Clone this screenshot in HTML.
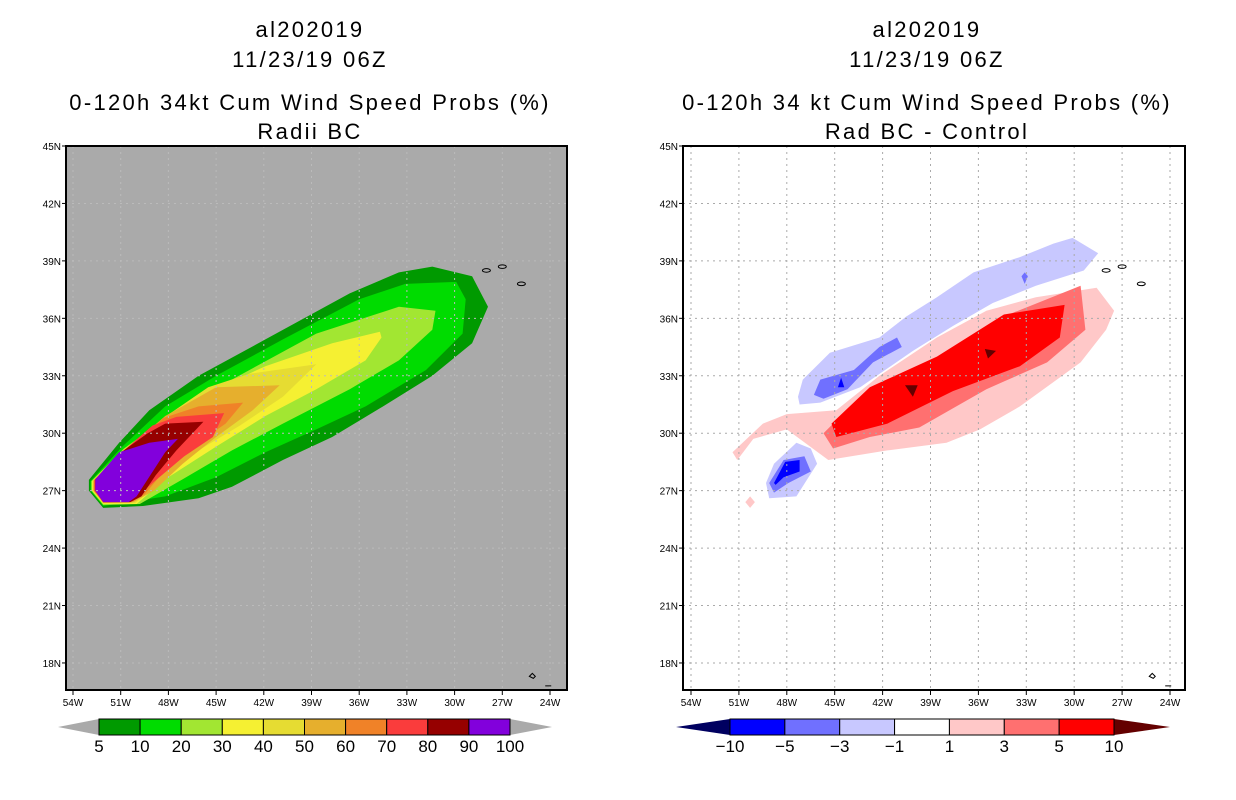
<!DOCTYPE html>
<html><head><meta charset="utf-8"><style>
html,body{margin:0;padding:0;background:#fff}
svg{display:block}
text{font-family:"Liberation Sans",sans-serif;fill:#000}
.t{font-size:22px;text-anchor:middle;letter-spacing:2.3px}
.tk{font-size:10px}
.cb{font-size:17px;text-anchor:middle}
</style></head><body>
<svg id="page" width="1236" height="800" viewBox="0 0 1236 800" xmlns="http://www.w3.org/2000/svg">
<rect width="1236" height="800" fill="#fff"/>
<g>
<text class="t" x="310" y="37">al202019</text>
<text class="t" x="310" y="67">11/23/19 06Z</text>
<text class="t" x="310" y="110">0-120h 34kt Cum Wind Speed Probs (%)</text>
<text class="t" x="310" y="139">Radii BC</text>
</g>
<g>
<text class="t" x="927" y="37">al202019</text>
<text class="t" x="927" y="67">11/23/19 06Z</text>
<text class="t" x="927" y="110">0-120h 34 kt Cum Wind Speed Probs (%)</text>
<text class="t" x="927" y="139">Rad BC - Control</text>
</g>
<g id="left"></g>
<g id="right"></g>
<g id="lcb"></g>
<g id="rcb"></g>
</svg>
<script>
const lonTicks=[54,51,48,45,42,39,36,33,30,27,24];
const latTicks=[45,42,39,36,33,30,27,24,21,18];
const probLevels=[5,10,20,30,40,50,60,70,80,90,100];
const probColors=["#009a00","#00dc00","#a2e632","#f5f032","#e6dc32","#e6af2d","#f08228","#fa3c3c","#960000","#8200dc"];
const diffLevels=[-10,-5,-3,-1,1,3,5,10];
const diffColors=["#0000ff","#7070ff","#c8c8ff","#ffffff","#ffc8c8","#ff7070","#ff0000"];
const prob5=[[53,27.56],[51.1,29.5],[49.2,31.2],[46.1,33],[41.9,34.9],[36.6,37.3],[33.5,38.4],[31.4,38.7],[28.9,38.2],[27.9,36.6],[28.9,34.7],[31.4,33],[34.5,31.4],[37.7,29.8],[40.8,28.6],[44,27.2],[46.1,26.6],[49.6,26.2],[52.1,26.1],[53,27]];
const prob10=[[52.9,27.5],[50.9,29.3],[48.2,31.4],[45,33],[40.8,34.9],[36,37],[33.1,37.8],[29.9,37.9],[29.3,37],[29.5,35.2],[31.8,33.3],[35.6,31.4],[38.7,30.2],[41.9,29],[45,27.7],[48.2,26.7],[52.1,26.2],[52.9,27]];
const prob20=[[52.85,27.5],[50.8,29.2],[47.1,31.4],[42.9,33.3],[38.7,35.2],[33.5,36.6],[31.2,36.4],[31.4,35.4],[33.5,33.8],[36.6,32.3],[40.8,30.5],[44,29.1],[47.1,27.6],[49.8,26.3],[52.1,26.25],[52.85,27]];
const prob30=[[52.8,27.5],[50.8,29.15],[48.5,30.6],[46.1,31.9],[41.9,33.5],[37.7,34.7],[34.7,35.3],[34.6,35],[35.6,33.8],[38.7,32.3],[41.9,30.9],[45,29.3],[48.2,27.6],[50,26.3],[52.1,26.3],[52.8,27]];
const prob40=[[52.75,27.5],[50.75,29.15],[48.3,30.8],[45.5,32.4],[42.9,33.1],[38.7,33.6],[40.8,31.9],[43.5,30.4],[46.1,29.1],[48.5,27.4],[50.1,26.35],[52.1,26.35],[52.75,27]];
const prob50=[[52.7,27.5],[50.7,29.1],[48.2,30.9],[45,32.4],[41,32.5],[42.7,31.2],[45,29.8],[47.1,28.4],[48.9,27],[50.2,26.4],[52.1,26.35],[52.7,27]];
const prob60=[[52.7,27.55],[50.7,29.1],[48.3,30.8],[46.1,31.4],[43.3,31.6],[44.4,30.5],[46.5,29.3],[48.2,28.1],[49.5,26.8],[50.3,26.4],[52.1,26.4],[52.7,27]];
const prob70=[[52.65,27.55],[50.8,29.1],[49,30.4],[47.5,30.85],[44.5,31.05],[45.2,29.8],[47,28.8],[49,27.4],[50.4,26.4],[52.1,26.4],[52.65,27]];
const prob80=[[52.6,27.6],[50.9,29.05],[49.3,30],[48.2,30.5],[45.8,30.6],[47.5,29.1],[48.8,27.8],[49.7,26.7],[50.4,26.4],[52.1,26.4],[52.6,27]];
const prob90=[[52.6,27.6],[51.1,29],[49.2,29.5],[47.4,29.7],[48.2,29],[50,26.7],[50.5,26.4],[52.1,26.4],[52.6,27]];
const neg1North=[[47.3,31.9],[47,32.8],[45.3,34.2],[42.2,35],[40.5,36.1],[38.6,37.1],[36.3,38.4],[33.4,39.2],[31.3,39.9],[30.1,40.2],[28.5,39.4],[29.4,38.5],[32.4,37.7],[35.1,36.8],[37.6,35.6],[40.1,34.3],[43.4,32.4],[45.9,31.6],[47.2,31.5]];
const neg3North=[[46.3,32],[45.9,32.8],[43.8,33.3],[42.2,34.5],[41.1,35],[40.8,34.5],[42.6,33.7],[44.2,32.3],[45.7,31.8]];
const neg3NorthB=[[33.3,38.2],[33.1,37.8],[32.9,38.2],[33.1,38.4]];
const neg5North=[[44.8,32.4],[44.6,32.9],[44.4,32.4]];
const neg1South=[[49.3,27.4],[48.8,28.4],[47.4,29.5],[46.5,29.2],[46.1,28.4],[47.4,26.7],[49.1,26.6]];
const neg3South=[[49.1,27.4],[48.2,28.6],[46.9,28.8],[46.5,28],[47.9,27.4],[48.8,26.9]];
const neg5South=[[48.8,27.4],[48.1,28.5],[47.2,28.6],[47.2,28],[48.2,27.7],[48.7,27.3]];
const pos1=[[51.4,29],[49.5,30.5],[48,31],[44.9,31.2],[42.2,33],[38.6,35],[35.5,36.4],[32.4,37.1],[28.6,37.6],[27.5,36.4],[28,35.4],[29.6,33.7],[33.4,31.4],[35.9,30.2],[38,29.5],[41.7,29.1],[45.4,28.6],[48,30.2],[50.1,29.7],[51.1,28.6]];
const pos1b=[[50.3,26.7],[50,26.4],[50.3,26.1],[50.6,26.4]];
const pos3=[[45.7,30],[43.4,31.9],[38.6,33.6],[34.4,36.1],[29.6,37.7],[29.3,35.4],[31.7,33.7],[35.5,32.3],[39.7,30.3],[42.8,29.8],[45.1,29.2]];
const pos5=[[45.2,30.5],[42.8,32.4],[38.6,34],[34.4,36.2],[30.6,36.7],[30.9,35],[33.4,33.5],[37.6,32.2],[41.7,30.5],[44.9,29.8]];
const pos10=[[40.6,32.5],[39.8,32.5],[40.1,31.9]];
const pos10b=[[35.6,34.4],[34.9,34.3],[35.4,33.9]];

const NS="http://www.w3.org/2000/svg";
const Y0=146, DY=57.44/3;
function mk(tag,attrs,parent){const e=document.createElementNS(NS,tag);for(const k in attrs)e.setAttribute(k,attrs[k]);parent.appendChild(e);return e;}
function panel(g,x0,dx,bx0,bx1,bg,grid){
  const X=w=>x0+(54-w)*dx/3, Y=l=>Y0+(45-l)*DY;
  const bgr=mk('rect',{x:bx0,y:146,width:bx1-bx0,height:544,fill:bg},g);
  
  
  return {X,Y,draw(){
    for(const w of lonTicks){const l=mk('line',{x1:X(w),x2:X(w),y1:146,y2:690,stroke:grid,'stroke-dasharray':'2,4','stroke-width':1},g);
      
      }
    for(const t of latTicks){const l=mk('line',{x1:bx0,x2:bx1,y1:Y(t),y2:Y(t),stroke:grid,'stroke-dasharray':'2,4','stroke-width':1},g);
      
      }
    const isl=[[28,38.5],[27,38.7],[25.8,37.8]];
    for(const p of isl){const e=mk('ellipse',{cx:X(p[0]),cy:Y(p[1]),rx:4,ry:1.8,fill:'none',stroke:'#000','stroke-width':1},g);
      
      }
    const cv=mk('path',{d:`M${X(25.3)},${Y(17.3)} l3,-3 l3,3 l-2,2 z M${X(24.3)},${Y(16.8)} h6`,fill:'none',stroke:'#000','stroke-width':1},g);
    
    
    const fr=mk('rect',{x:bx0,y:146,width:bx1-bx0,height:544,fill:'none',stroke:'#000','stroke-width':2},g);
    
    
    for(const w of lonTicks){mk('line',{x1:X(w),x2:X(w),y1:690,y2:695,stroke:'#000'},g);
      const t=mk('text',{x:X(w),y:706,class:'tk','text-anchor':'middle'},g);t.textContent=w+'W';
      
      }
    for(const l of latTicks){mk('line',{x1:bx0-4,x2:bx0,y1:Y(l),y2:Y(l),stroke:'#000'},g);
      const t=mk('text',{x:bx0-5,y:Y(l)+4,class:'tk','text-anchor':'end'},g);t.textContent=l+'N';
      
      }
  }};
}
function poly(g,p,pts,fill,name){
  const e=mk('polygon',{points:pts.map(q=>p.X(q[0]).toFixed(1)+','+p.Y(q[1]).toFixed(1)).join(' '),fill:fill},g);
  
  
}
const L=document.getElementById('left'),R=document.getElementById('right');
const pl=panel(L,73,47.7,66,567,'#aaaaaa','#bbb');
[prob5,prob10,prob20,prob30,prob40,prob50,prob60,prob70,prob80,prob90].forEach((pts,i)=>poly(L,pl,pts,probColors[i],'prob-contour-'+probLevels[i]));
pl.draw();
const pr=panel(R,691,47.9,683,1185,'#ffffff','#aaa');
pr.draw();
const rf=document.createElementNS(NS,'g');
R.insertBefore(rf,R.children[1]);
poly(rf,pr,pos1,diffColors[4],'diff-contour-1');
poly(rf,pr,pos1b,diffColors[4],'diff-contour-1');
poly(rf,pr,pos3,diffColors[5],'diff-contour-3');
poly(rf,pr,pos5,diffColors[6],'diff-contour-5');
poly(rf,pr,pos10,'#640000','diff-contour-10');
poly(rf,pr,pos10b,'#640000','diff-contour-10');
poly(rf,pr,neg1North,diffColors[2],'diff-contour-neg1');
poly(rf,pr,neg3North,diffColors[1],'diff-contour-neg3');
poly(rf,pr,neg3NorthB,diffColors[1],'diff-contour-neg3');
poly(rf,pr,neg5North,diffColors[0],'diff-contour-neg5');
poly(rf,pr,neg1South,diffColors[2],'diff-contour-neg1');
poly(rf,pr,neg3South,diffColors[1],'diff-contour-neg3');
poly(rf,pr,neg5South,diffColors[0],'diff-contour-neg5');
function colorbar(g,x0,x1,bx0,bx1,levels,colors,lt,rt,labFmt){
  const y0=719,y1=735,n=colors.length,w=(bx1-bx0)/n;
  const a=mk('polygon',{points:`${x0},727 ${bx0},${y0} ${bx0},${y1}`,fill:lt},g);
  
  const b=mk('polygon',{points:`${x1},727 ${bx1},${y0} ${bx1},${y1}`,fill:rt},g);
  
  colors.forEach((c,i)=>{const r=mk('rect',{x:bx0+i*w,y:y0,width:w,height:y1-y0,fill:c,stroke:'#000','stroke-width':1},g);
    });
  levels.forEach((v,i)=>{const t=mk('text',{x:bx0+i*w,y:752,class:'cb'},g);t.textContent=labFmt(v);
    });
}
colorbar(document.getElementById('lcb'),58,552,99,510,probLevels,probColors,'#aaaaaa','#aaaaaa',v=>String(v));
colorbar(document.getElementById('rcb'),676,1170,730,1114,diffLevels,diffColors,'#000060','#640000',v=>v<0?'\u2212'+(-v):String(v));
</script>
</body></html>
